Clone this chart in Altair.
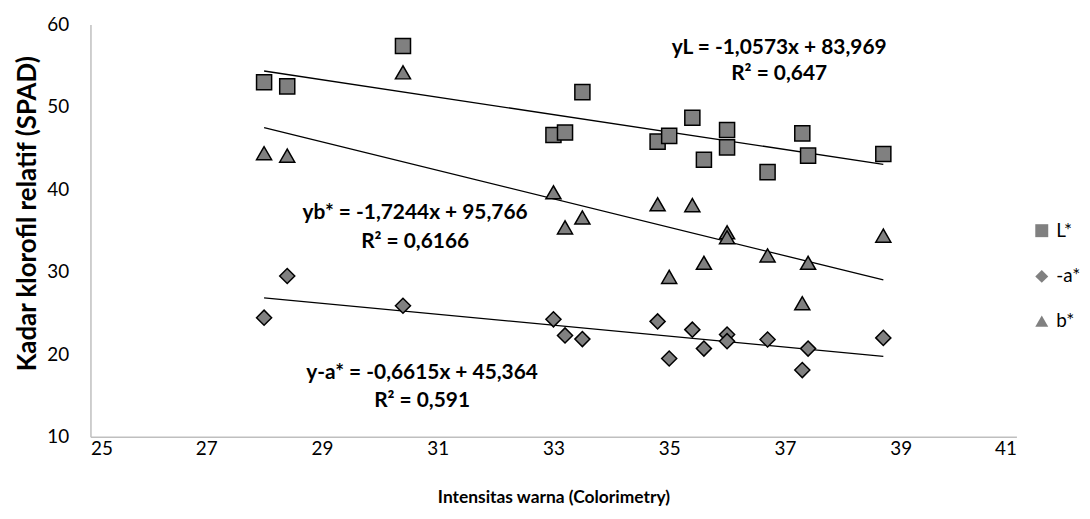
import altair as alt
import pandas as pd

# ---- data ----
x_vals = [28.0, 28.4, 30.4, 33.0, 33.2, 33.5, 34.8, 35.0, 35.4, 35.6, 36.0, 36.0, 36.7, 37.3, 37.4, 38.7]
L_vals = [53.0, 52.5, 57.4, 46.6, 46.9, 51.8, 45.8, 46.5, 48.7, 43.6, 47.2, 45.1, 42.1, 46.8, 44.1, 44.3]
a_vals = [24.45, 29.5, 25.9, 24.25, 22.3, 21.85, 24.0, 19.5, 23.0, 20.7, 22.4, 21.6, 21.8, 18.1, 20.7, 22.0]
b_vals = [44.4, 44.1, 54.2, 39.65, 35.4, 36.6, 38.2, 29.4, 38.1, 31.1, 34.8, 34.2, 32.0, 26.2, 31.1, 34.4]

series = ["L*", "-a*", "b*"]
shapes = ["square", "diamond", "triangle-up"]
slopes = [-1.0573, -0.6615, -1.7244]
intercepts = [83.969, 45.364, 95.766]

ann_text = ["yL = -1,0573x + 83,969", "R² = 0,647",
            "yb* = -1,7244x + 95,766", "R² = 0,6166",
            "y-a* = -0,6615x + 45,364", "R² = 0,591"]
ann_x = [36.9, 36.9, 30.61, 30.61, 30.73, 30.73]
ann_y = [57.2, 53.97, 37.1, 33.6, 17.74, 14.4]

x_ticks = [25, 27, 29, 31, 33, 35, 37, 39, 41]
y_ticks = [10, 20, 30, 40, 50, 60]

# ---- tables ----
rows = []
for name, vals in zip(series, [L_vals, a_vals, b_vals]):
    for xv, yv in zip(x_vals, vals):
        rows.append({"series": name, "x": xv, "y": yv})
df_pts = pd.DataFrame(rows)

xmin, xmax = min(x_vals), max(x_vals)
trend_rows = []
for name, m, c in zip(series, slopes, intercepts):
    for xv in (xmin, xmax):
        trend_rows.append({"series": name, "x": xv, "y": m * xv + c})
df_trend = pd.DataFrame(trend_rows)

df_ann = pd.DataFrame({"x": ann_x, "y": ann_y, "text": ann_text})

FONT = "Lato"

x_enc = alt.X("x:Q",
              scale=alt.Scale(domain=[25, 41], nice=False, zero=False),
              axis=alt.Axis(values=x_ticks, title="Intensitas warna (Colorimetry)",
                            labelPadding=3, titlePadding=30, titleFontSize=17.5))
y_enc = alt.Y("y:Q",
              scale=alt.Scale(domain=[10, 60], nice=False, zero=False),
              axis=alt.Axis(values=y_ticks, title="Kadar klorofil relatif (SPAD)",
                            labelPadding=22, titleFontSize=26, titleX=-50, titleY=190))

points = alt.Chart(df_pts).mark_point(
    filled=True, fill="#808080", stroke="black", strokeWidth=1.5,
    opacity=1, fillOpacity=1, strokeOpacity=1, size=230
).encode(
    x=x_enc, y=y_enc,
    shape=alt.Shape("series:N",
                    scale=alt.Scale(domain=series, range=shapes),
                    legend=alt.Legend(title=None, orient="none", legendX=948, legendY=198,
                                      symbolFillColor="#808080", symbolStrokeColor="black",
                                      symbolStrokeWidth=1.5, symbolSize=170, symbolOpacity=1,
                                      labelFont=FONT, labelFontSize=19, labelColor="black",
                                      rowPadding=25, labelOffset=5)),
)

lines = alt.Chart(df_trend).mark_line(color="black", strokeWidth=1.3).encode(
    x=x_enc, y=y_enc, detail="series:N"
)

texts = alt.Chart(df_ann).mark_text(
    font=FONT, fontSize=21, fontWeight="bold", color="black", align="center", baseline="middle"
).encode(x=x_enc, y=y_enc, text="text:N")

chart = alt.layer(lines, points, texts).properties(
    width=932, height=415,
    padding={"left": 83, "top": 15, "right": 66, "bottom": 70},
    autosize=alt.AutoSizeParams(type="none"),
).configure_view(stroke=None).configure_axis(
    grid=False, ticks=False,
    domainColor="#bfbfbf", domainWidth=1.5,
    labelFont=FONT, labelFontSize=19, labelColor="black",
    titleFont=FONT, titleFontWeight="bold", titleColor="black",
)

chart.save("out.html", embed_options={"renderer": "svg", "actions": False})
